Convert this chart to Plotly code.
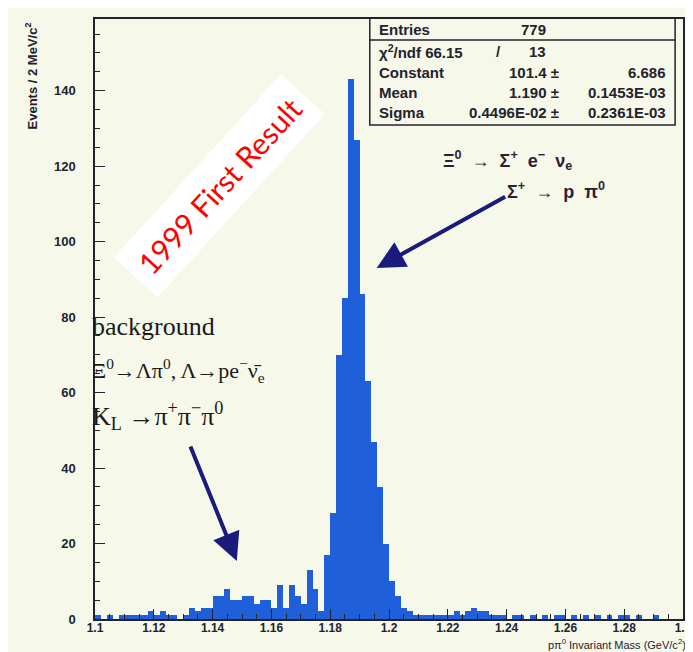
import plotly.graph_objects as go

# ---------------- data ----------------
bin_start = 1.100
bin_width = 0.002
counts = [
    1, 0, 1, 0, 1, 1, 1, 1, 1, 2,      # 1.100 - 1.120
    1, 2, 1, 1, 0, 1, 3, 2, 3, 3,      # 1.120 - 1.140
    6, 6, 8, 5, 5, 6, 6, 4, 5, 5,      # 1.140 - 1.160
    3, 9, 3, 9, 6, 4, 13, 8, 2, 17,    # 1.160 - 1.180
    28, 70, 85, 143, 127, 86, 63, 47, 35, 20,  # 1.180 - 1.200
    10, 6, 3, 2, 1, 1, 1, 1, 1, 1,     # 1.200 - 1.220
    1, 2, 1, 2, 3, 2, 2, 1, 1, 1,      # 1.220 - 1.240
    0, 1, 1, 0, 1, 0, 1, 0, 1, 1,      # 1.240 - 1.260
    0, 1, 0, 1, 0, 1, 0, 1, 0, 1,      # 1.260 - 1.280
    1, 0, 1, 0, 0, 1, 0, 0, 0, 0,      # 1.280 - 1.300
]
x_tickvals = [1.10, 1.12, 1.14, 1.16, 1.18, 1.20, 1.22, 1.24, 1.26, 1.28, 1.30]
x_ticktext = ["1.1", "1.12", "1.14", "1.16", "1.18", "1.2", "1.22", "1.24", "1.26", "1.28", "1.3"]
y_tickvals = [0, 20, 40, 60, 80, 100, 120, 140]

stats_entries = "779"
stats_chi2 = ("66.15", "13")
stats_constant = ("101.4", "6.686")
stats_mean = ("1.190", "0.1453E-03")
stats_sigma = ("0.4496E-02", "0.2361E-03")

centers = [bin_start + bin_width * (i + 0.5) for i in range(len(counts))]

# ---------------- layout helpers ----------------
W, H = 693, 652
L, R, T, B = 87, 684, 11, 611


def px(x):
    return (x - L) / (R - L)


def py(y):
    return (B - y) / (B - T)


BG = "#f6f9e9"
INK = "#23222e"
BLUE = "#1f5fd9"
NAVY = "#1b1b7e"
NB = "\u00a0"

fig = go.Figure()
fig.add_trace(go.Bar(
    x=centers, y=counts, width=bin_width,
    marker=dict(color=BLUE, line=dict(width=0)),
    hoverinfo="skip",
))

fig.update_layout(
    width=W, height=H,
    margin=dict(l=L, r=W - R, t=T, b=H - B),
    paper_bgcolor=BG, plot_bgcolor=BG,
    showlegend=False, bargap=0,
    font=dict(family="Liberation Sans, Arial, sans-serif", color=INK),
)

fig.update_xaxes(
    range=[1.1, 1.3], tickvals=x_tickvals, ticktext=x_ticktext,
    ticks="inside", ticklen=10, tickwidth=1.2, tickcolor=INK,
    minor=dict(dtick=0.005, tick0=1.1, ticks="inside", ticklen=5, tickcolor=INK),
    showline=True, linecolor=INK, linewidth=1.5, mirror=True,
    showgrid=False, zeroline=False,
    tickfont=dict(size=12, weight="bold", color=INK),
    ticklabelstandoff=-3,
)
fig.update_yaxes(
    range=[0, 159], tickvals=y_tickvals,
    ticks="inside", ticklen=10, tickwidth=1.2, tickcolor=INK,
    minor=dict(dtick=5, tick0=0, ticks="inside", ticklen=5, tickcolor=INK),
    showline=True, linecolor=INK, linewidth=1.5, mirror=True,
    showgrid=False, zeroline=False,
    tickfont=dict(size=13, weight="bold", color=INK),
    ticklabelstandoff=15,
)

ann = []
# axis titles
ann.append(dict(x=px(22), y=py(12), xref="paper", yref="paper",
                text="Events / 2 MeV/c<sup>2</sup>", textangle=-90,
                xanchor="center", yanchor="top", showarrow=False,
                font=dict(size=13, weight="bold", color=INK)))
ann.append(dict(x=px(689), y=py(636), xref="paper", yref="paper",
                text="pπ<sup>0</sup> Invariant Mass (GeV/c<sup>2</sup>)",
                xanchor="right", yanchor="middle", showarrow=False,
                font=dict(size=11, color=INK)))

# stats box
SF = dict(size=15, weight="bold", color=INK)


def st(x, y, text, anchor="left"):
    ann.append(dict(x=px(x), y=py(y), xref="paper", yref="paper", text=text,
                    xanchor=anchor, yanchor="middle", showarrow=False, font=SF))


st(373, 22, "Entries")
st(547, 22, stats_entries, "right")
st(373, 43, "χ<sup>2</sup>/ndf " + stats_chi2[0])
st(501, 43, "/", "right")
st(547, 43, stats_chi2[1], "right")
st(373, 64, "Constant")
st(560, 64, stats_constant[0] + " ±", "right")
st(669, 64, stats_constant[1], "right")
st(373, 85, "Mean")
st(560, 85, stats_mean[0] + " ±", "right")
st(669, 85, stats_mean[1], "right")
st(373, 105, "Sigma")
st(560, 105, stats_sigma[0] + " ±", "right")
st(669, 105, stats_sigma[1], "right")

shapes = [
    dict(type="rect", xref="paper", yref="paper",
         x0=px(366), x1=px(676), y0=py(117), y1=py(10),
         line=dict(color=INK, width=1.5), fillcolor="rgba(0,0,0,0)"),
    dict(type="line", xref="paper", yref="paper",
         x0=px(366), x1=px(676), y0=py(32), y1=py(32),
         line=dict(color=INK, width=1.5)),
]

# decay labels (right)
RF = dict(size=18, weight="bold", color="#2a1f3a")
ann.append(dict(x=px(438), y=py(152), xref="paper", yref="paper",
                text="Ξ<sup>0</sup>" + NB * 2 + "→" + NB * 2 + "Σ<sup>+</sup>" + NB * 2
                     + "e<sup>−</sup>" + NB * 2 + "ν<sub>e</sub>",
                xanchor="left", yanchor="middle", showarrow=False, font=RF))
ann.append(dict(x=px(503), y=py(182), xref="paper", yref="paper",
                text="Σ<sup>+</sup>" + NB * 2 + "→" + NB * 2 + "p" + NB * 2 + "π<sup>0</sup>",
                xanchor="left", yanchor="middle", showarrow=False, font=RF))

# background labels (left)
LF = dict(family="Liberation Serif, Times New Roman, serif", size=26, color="#1a1a1a")
LF2 = dict(family="Liberation Serif, Times New Roman, serif", size=22, color="#1a1a1a")
ann.append(dict(x=px(82), y=py(318), xref="paper", yref="paper",
                text="background", xanchor="left", yanchor="middle",
                showarrow=False, font=LF))
ann.append(dict(x=px(82), y=py(362), xref="paper", yref="paper",
                text="Ξ<sup>0</sup>→Λπ<sup>0</sup>, Λ→pe<sup>−</sup>ν̄<sub>e</sub>",
                xanchor="left", yanchor="middle", showarrow=False, font=LF2))
ann.append(dict(x=px(82), y=py(408), xref="paper", yref="paper",
                text="K<sub>L</sub> →π<sup>+</sup>π<sup>−</sup>π<sup>0</sup>",
                xanchor="left", yanchor="middle", showarrow=False, font=LF))

# arrows
ann.append(dict(x=px(373), y=py(260), xref="paper", yref="paper", text="",
                showarrow=True, ax=130, ay=-72, arrowhead=2, arrowsize=1.4,
                arrowwidth=4, arrowcolor=NAVY))
ann.append(dict(x=px(231), y=py(553), xref="paper", yref="paper", text="",
                showarrow=True, ax=-47, ay=-116, arrowhead=2, arrowsize=1.4,
                arrowwidth=4, arrowcolor=NAVY))

# stamp
ann.append(dict(x=px(213), y=py(178), xref="paper", yref="paper",
                text="1999 First Result", textangle=-47.6,
                xanchor="center", yanchor="middle", showarrow=False,
                bgcolor="white", borderpad=11,
                font=dict(family="Lato, Open Sans, sans-serif", size=30, color="#ff0000")))

fig.update_layout(annotations=ann, shapes=shapes)
fig.write_html("out.html")
